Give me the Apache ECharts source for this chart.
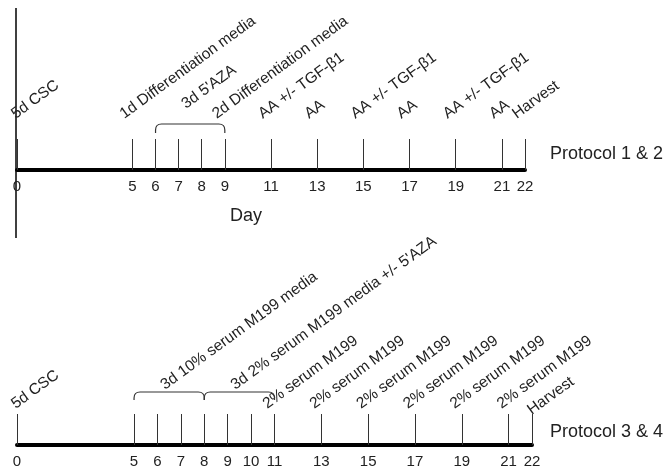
<!DOCTYPE html>
<html>
<head>
<meta charset="utf-8">
<script src="https://cdn.jsdelivr.net/npm/echarts@6/dist/echarts.min.js"></script>
<style>html,body{margin:0;padding:0;background:#fff;}#c{width:670px;height:471px;}</style>
</head>
<body>
<div id="c"></div>
<script>
// ---- data ----
const p12Ticks = [0, 5, 6, 7, 8, 9, 11, 13, 15, 17, 19, 21, 22];
const p12EventDays = [0, 5, 9, 11, 13, 15, 17, 19, 21, 22];
const p12EventLabels = ['5d CSC', '1d Differentiation media', '2d Differentiation media', 'AA +/- TGF-\u03b21', 'AA', 'AA +/- TGF-\u03b21', 'AA', 'AA +/- TGF-\u03b21', 'AA', 'Harvest'];
const p12BracketStart = [6];
const p12BracketEnd = [9];
const p12BracketLabels = ["3d 5'AZA"];

const p34Ticks = [0, 5, 6, 7, 8, 9, 10, 11, 13, 15, 17, 19, 21, 22];
const p34EventDays = [0, 11, 13, 15, 17, 19, 21, 22];
const p34EventLabels = ['5d CSC', '2% serum M199', '2% serum M199', '2% serum M199', '2% serum M199', '2% serum M199', '2% serum M199', 'Harvest'];
const p34BracketStart = [5, 8];
const p34BracketEnd = [8, 11];
const p34BracketLabels = ['3d 10% serum M199 media', "3d 2% serum M199 media +/- 5'AZA"];

const protocolNames = ['Protocol 1 & 2', 'Protocol 3 & 4'];
const axisName = 'Day';

// ---- rendering ----
const FONT = 'Liberation Sans, Arial, sans-serif';
const LFONT = '15.5px ' + FONT;
const ANG = 36 * Math.PI / 180;
const chart = echarts.init(document.getElementById('c'), null, {renderer: 'canvas'});

function xAxisFor(ticks, gi) {
  return {
    type: 'value', gridIndex: gi, min: 0, max: 22,
    splitLine: {show: false},
    axisLine: {show: true, lineStyle: {color: '#000', width: 4}},
    axisTick: {show: true, inside: true, length: 31, customValues: ticks, lineStyle: {color: '#333', width: 1}},
    axisLabel: {show: true, customValues: ticks, color: '#222', fontSize: 15, fontFamily: FONT, margin: 9}
  };
}
function yAxisFor(gi) {
  return {type: 'value', gridIndex: gi, min: 0, max: 1, show: false};
}
function eventSeries(days, labels, gi, dx, dy, lastDx, lastDy) {
  return {
    type: 'custom', xAxisIndex: gi, yAxisIndex: gi, silent: true,
    data: days.map(d => [d, 1]),
    renderItem: function (params, api) {
      const p = api.coord([api.value(0), 1]);
      const i = params.dataIndex;
      const first = i === 0, last = i === labels.length - 1;
      const ox = first ? 1 : (last ? lastDx : dx);
      const oy = last ? lastDy : dy;
      return {
        type: 'text', x: p[0] + ox, y: p[1] + oy, rotation: ANG,
        style: {text: labels[i], fill: '#222', font: LFONT, align: 'left', verticalAlign: 'bottom'}
      };
    }
  };
}
function bracketSeries(starts, ends, labels, gi, topOff, endOff, ldy) {
  return {
    type: 'custom', xAxisIndex: gi, yAxisIndex: gi, silent: true,
    data: starts.map((s, i) => [s, ends[i]]),
    renderItem: function (params, api) {
      const a = api.coord([api.value(0), 1]);
      const b = api.coord([api.value(1), 1]);
      const yt = a[1] + topOff, ye = a[1] + endOff, r = 6;
      const x1 = a[0], x2 = b[0];
      const path = 'M' + x1 + ' ' + ye + ' L' + x1 + ' ' + (yt + r) +
        ' Q' + x1 + ' ' + yt + ' ' + (x1 + r) + ' ' + yt +
        ' L' + (x2 - r) + ' ' + yt +
        ' Q' + x2 + ' ' + yt + ' ' + x2 + ' ' + (yt + r) +
        ' L' + x2 + ' ' + ye;
      return {
        type: 'group', children: [
          {type: 'path', shape: {pathData: path}, style: {stroke: '#333', lineWidth: 1.2, fill: null}},
          {type: 'text', x: (x1 + x2) / 2 - 2, y: yt + ldy, rotation: ANG,
           style: {text: labels[params.dataIndex], fill: '#222', font: LFONT, align: 'left', verticalAlign: 'bottom'}}
        ]
      };
    }
  };
}

const option = {
  backgroundColor: '#fff',
  animation: false,
  grid: [
    {left: 17, right: 145, top: 139, height: 31},
    {left: 17, right: 138, top: 415, height: 30}
  ],
  xAxis: [xAxisFor(p12Ticks, 0), xAxisFor(p34Ticks, 1)],
  yAxis: [yAxisFor(0), yAxisFor(1)],
  series: [
    eventSeries(p12EventDays, p12EventLabels, 0, -6, -17, -6, -17),
    bracketSeries(p12BracketStart, p12BracketEnd, p12BracketLabels, 0, -15, -6, -12),
    eventSeries(p34EventDays, p34EventLabels, 1, -5, -3, 2, 3),
    bracketSeries(p34BracketStart, p34BracketEnd, p34BracketLabels, 1, -23, -15, 1)
  ],
  graphic: [
    {type: 'line', shape: {x1: 16, y1: 8, x2: 16, y2: 238}, style: {stroke: '#000', lineWidth: 1.5}},
    {type: 'text', x: 230, y: 216, style: {text: axisName, fill: '#222', font: '18px ' + FONT, align: 'left', verticalAlign: 'middle'}},
    {type: 'text', x: 550, y: 154, style: {text: protocolNames[0], fill: '#222', font: '18px ' + FONT, align: 'left', verticalAlign: 'middle'}},
    {type: 'text', x: 550, y: 432, style: {text: protocolNames[1], fill: '#222', font: '18px ' + FONT, align: 'left', verticalAlign: 'middle'}}
  ]
};
chart.setOption(option);
</script>
</body>
</html>
